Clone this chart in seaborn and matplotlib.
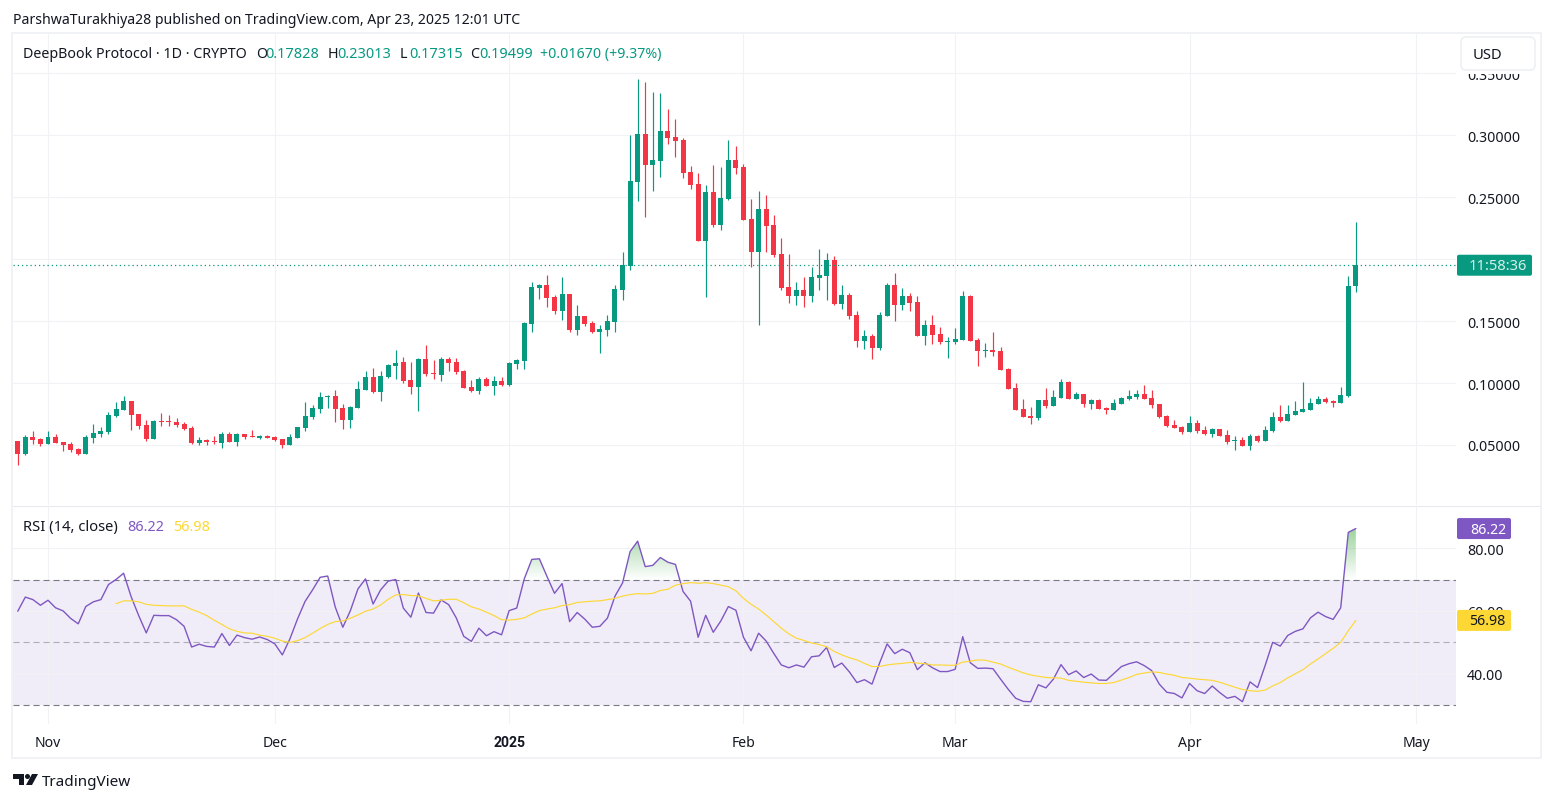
import numpy as np
import pandas as pd
import seaborn as sns
import matplotlib
matplotlib.use('Agg')
import matplotlib.pyplot as plt
import matplotlib.dates as mdates
from matplotlib.patches import FancyBboxPatch, Rectangle, Polygon, Circle
from matplotlib.path import Path

# daily candles, Oct 28 2024 to Apr 23 2025
first_day = '2024-10-28'
open_ = [
    .0535, .0425, .0567, .0551, .0511, .0567, .0527, .0511, .0470, .0430,
    .0559, .0591, .0608, .0737, .0785, .0858, .0753, .0664, .0551, .0696,
    .0696, .0688, .0672, .0640, .0519, .0543, .0535, .0519, .0591, .0527,
    .0591, .0575, .0559, .0575, .0567, .0551, .0503, .0559, .0640, .0729,
    .0793, .0890, .0898, .0801, .0704, .0801, .0947, .1051, .0930, .1051,
    .1140, .1172, .1027, .0970, .1196, .1083, .1067, .1196, .1172, .1100,
    .0970, .0938, .1035, .0978, .1019, .0987, .1156, .1180, .1479, .1769,
    .1794, .1697, .1584, .1721, .1430, .1543, .1487, .1414, .1430, .1495,
    .1753, .1947, .2624, .3012, .2762, .2794, .3036, .2988, .2963, .2705,
    .2608, .2148, .2544, .2277, .2487, .2802, .2745, .2326, .2060, .2407,
    .2277, .2043, .1777, .1704, .1753, .1704, .1850, .1866, .1995, .1640,
    .1713, .1551, .1341, .1382, .1285, .1543, .1793, .1632, .1704, .1656,
    .1382, .1470, .1398, .1333, .1333, .1349, .1704, .1349, .1261, .1269,
    .1261, .1115, .0962, .0793, .0736, .0721, .0866, .0817, .0882, .1011,
    .0874, .0914, .0834, .0866, .0801, .0785, .0834, .0874, .0890, .0914,
    .0882, .0834, .0737, .0664, .0648, .0608, .0680, .0624, .0591, .0632,
    .0583, .0535, .0543, .0495, .0575, .0535, .0616, .0729, .0696, .0745,
    .0769, .0785, .0834, .0874, .0858, .0842, .0898, .17828]
high = [
    .0535, .0583, .0616, .0559, .0616, .0591, .0527, .0527, .0478, .0583,
    .0672, .0648, .0769, .0850, .0898, .0858, .0753, .0704, .0704, .0761,
    .0745, .0721, .0688, .0656, .0567, .0551, .0575, .0608, .0608, .0600,
    .0591, .0624, .0583, .0583, .0575, .0551, .0591, .0648, .0850, .0825,
    .0930, .0906, .0947, .0834, .0817, .1019, .1100, .1124, .1100, .1156,
    .1269, .1213, .1172, .1204, .1309, .1188, .1213, .1213, .1204, .1108,
    .1027, .1051, .1051, .1059, .1051, .1172, .1196, .1495, .1818, .1802,
    .1874, .1713, .1858, .1721, .1632, .1543, .1503, .1471, .1551, .1794,
    .2060, .3004, .3448, .3431, .3351, .3343, .3214, .3133, .2980, .2754,
    .2697, .2600, .2762, .2745, .2963, .2915, .2770, .2487, .2552, .2520,
    .2358, .2173, .2043, .1817, .1858, .1938, .2084, .2051, .2027, .1793,
    .1729, .1583, .1430, .1398, .1575, .1809, .1890, .1769, .1729, .1704,
    .1511, .1551, .1454, .1374, .1446, .1745, .1713, .1365, .1325, .1414,
    .1293, .1123, .1002, .0873, .0809, .0866, .0963, .0947, .1035, .1019,
    .0930, .0914, .0874, .0874, .0809, .0874, .0890, .0947, .0947, .0987,
    .0947, .0834, .0745, .0704, .0656, .0737, .0704, .0656, .0640, .0632,
    .0624, .0575, .0567, .0591, .0583, .0656, .0769, .0825, .0825, .0858,
    .1011, .0882, .0898, .0890, .0866, .0971, .1866, .23013]
low = [
    .0336, .0417, .0511, .0495, .0511, .0519, .0454, .0446, .0422, .0430,
    .0519, .0567, .0591, .0729, .0785, .0624, .0632, .0535, .0551, .0656,
    .0656, .0648, .0624, .0511, .0503, .0503, .0511, .0478, .0527, .0495,
    .0551, .0567, .0551, .0559, .0535, .0478, .0503, .0559, .0616, .0713,
    .0761, .0801, .0688, .0632, .0640, .0801, .0947, .0922, .0857, .1043,
    .1035, .1003, .0914, .0777, .1059, .1035, .1019, .1100, .1075, .0962,
    .0930, .0914, .0978, .0906, .0978, .0978, .1116, .1116, .1414, .1681,
    .1616, .1560, .1511, .1414, .1390, .1463, .1406, .1245, .1382, .1414,
    .1672, .1914, .2471, .2342, .2552, .2665, .2931, .2826, .2657, .2568,
    .2148, .1696, .2261, .2237, .2479, .2689, .2318, .1938, .1470, .2060,
    .2019, .1753, .1648, .1632, .1616, .1656, .1753, .1672, .1632, .1600,
    .1519, .1293, .1277, .1196, .1269, .1543, .1503, .1591, .1583, .1382,
    .1309, .1317, .1317, .1204, .1317, .1349, .1341, .1140, .1212, .1220,
    .1107, .0954, .0784, .0728, .0671, .0704, .0801, .0817, .0882, .0874,
    .0874, .0809, .0793, .0793, .0753, .0785, .0834, .0866, .0874, .0874,
    .0801, .0721, .0648, .0640, .0591, .0608, .0600, .0583, .0567, .0575,
    .0511, .0462, .0495, .0462, .0527, .0535, .0608, .0688, .0696, .0745,
    .0769, .0785, .0834, .0842, .0809, .0842, .0890, .17315]
close = [
    .0425, .0567, .0543, .0511, .0567, .0519, .0503, .0462, .0430, .0567,
    .0600, .0616, .0745, .0793, .0858, .0745, .0656, .0551, .0696, .0688,
    .0688, .0664, .0632, .0519, .0543, .0527, .0527, .0591, .0527, .0591,
    .0567, .0567, .0575, .0559, .0543, .0503, .0567, .0648, .0737, .0801,
    .0890, .0898, .0793, .0704, .0809, .0955, .1051, .0930, .1059, .1148,
    .1164, .1019, .0970, .1196, .1075, .1075, .1196, .1164, .1091, .0962,
    .0938, .1035, .0978, .1019, .0987, .1164, .1188, .1487, .1777, .1794,
    .1689, .1584, .1721, .1430, .1543, .1479, .1414, .1438, .1503, .1761,
    .1955, .2632, .3012, .2762, .2802, .3036, .2980, .2955, .2697, .2600,
    .2148, .2544, .2277, .2495, .2802, .2737, .2318, .2060, .2407, .2269,
    .2035, .1769, .1704, .1753, .1704, .1858, .1874, .1995, .1640, .1713,
    .1543, .1341, .1382, .1285, .1551, .1793, .1632, .1704, .1648, .1382,
    .1470, .1390, .1333, .1341, .1357, .1704, .1341, .1261, .1269, .1253,
    .1107, .0954, .0784, .0728, .0720, .0866, .0817, .0890, .1011, .0874,
    .0914, .0834, .0866, .0793, .0785, .0842, .0882, .0898, .0914, .0874,
    .0825, .0729, .0656, .0640, .0608, .0680, .0616, .0591, .0632, .0575,
    .0527, .0543, .0495, .0575, .0535, .0624, .0729, .0696, .0753, .0777,
    .0793, .0842, .0874, .0850, .0842, .0906, .1785, .19499]

rsi = [
    59.9, 64.4, 63.6, 61.8, 63.4, 61.0, 60.0, 57.6, 55.9, 61.4,
    62.9, 63.6, 68.4, 70.0, 72.0, 64.5, 58.5, 53.0, 58.6, 58.5,
    58.5, 57.2, 55.1, 48.5, 49.4, 48.7, 48.5, 52.8, 49.0, 52.3,
    51.5, 51.0, 51.7, 50.9, 49.5, 46.0, 51.1, 57.4, 63.0, 66.7,
    70.7, 71.1, 61.2, 54.8, 60.1, 67.0, 70.2, 62.2, 66.7, 69.5,
    70.0, 60.9, 58.0, 65.7, 59.5, 59.3, 63.5, 62.0, 57.8, 51.9,
    50.3, 54.5, 52.1, 53.4, 52.4, 60.1, 60.9, 70.2, 76.4, 76.6,
    71.0, 65.6, 68.7, 56.6, 59.5, 57.4, 54.8, 55.1, 57.7, 64.7,
    68.9, 78.9, 82.2, 74.1, 74.5, 77.0, 75.5, 74.8, 66.2, 63.1,
    51.6, 58.6, 53.2, 56.8, 61.4, 60.2, 51.6, 47.3, 52.9, 50.4,
    46.5, 42.8, 41.9, 42.8, 42.1, 45.4, 45.7, 48.4, 42.0, 43.4,
    40.6, 37.2, 38.1, 36.7, 43.4, 49.5, 46.4, 47.8, 46.7, 41.3,
    43.5, 41.9, 40.7, 40.7, 41.4, 51.8, 43.5, 41.7, 41.8, 41.6,
    38.3, 35.1, 32.2, 31.2, 31.1, 36.5, 35.5, 38.3, 42.9, 39.7,
    40.9, 38.8, 39.9, 38.0, 37.9, 40.1, 42.3, 43.2, 43.8, 42.6,
    41.0, 36.7, 34.1, 33.7, 32.3, 36.9, 34.6, 33.7, 36.1, 34.0,
    32.2, 32.8, 31.1, 37.4, 35.6, 42.6, 50.0, 48.8, 52.2, 53.5,
    54.3, 57.8, 59.6, 58.2, 57.3, 61.0, 85.0, 86.22]
rsi_ma = [np.nan] * 13 + [
    62.3, 63.2, 63.2, 62.9, 62.1, 61.8, 61.7, 61.6, 61.6, 61.6,
    60.5, 59.6, 58.5, 57.0, 55.7, 54.3, 53.5, 53.0, 52.9, 52.3,
    51.9, 51.3, 50.4, 50.0, 50.5, 51.5, 52.9, 54.4, 55.7, 56.6,
    56.8, 57.7, 58.7, 59.9, 60.6, 61.9, 63.7, 65.1, 65.2, 64.9,
    64.8, 64.0, 63.2, 63.4, 63.7, 63.7, 62.6, 61.3, 60.6, 59.6,
    58.5, 57.2, 57.1, 57.3, 57.8, 59.0, 60.1, 60.6, 61.0, 61.7,
    62.0, 62.7, 62.9, 63.1, 63.2, 63.6, 64.0, 64.7, 65.2, 65.5,
    65.4, 65.6, 66.5, 66.9, 68.2, 68.7, 69.0, 68.8, 69.0, 68.7,
    68.2, 67.7, 66.4, 64.0, 62.1, 60.6, 58.7, 56.6, 54.5, 52.7,
    51.3, 50.6, 49.8, 49.3, 48.6, 47.1, 46.0, 45.1, 44.4, 43.3,
    42.3, 42.3, 42.8, 43.1, 43.3, 43.6, 43.4, 43.2, 42.8, 42.8,
    42.7, 42.7, 43.7, 44.0, 44.4, 44.3, 43.7, 43.1, 42.1, 41.2,
    40.3, 39.6, 39.2, 38.8, 38.7, 38.6, 37.9, 37.6, 37.3, 37.1,
    36.9, 36.9, 37.2, 38.0, 38.8, 39.8, 40.2, 40.6, 40.4, 39.9,
    39.5, 38.8, 38.6, 38.3, 38.1, 37.9, 37.3, 36.5, 35.7, 35.0,
    34.6, 34.4, 34.8, 36.1, 37.2, 38.7, 40.0, 41.3, 43.1, 44.7,
    46.4, 48.1, 50.0, 53.7, 56.98]

price_ticks = [0.05, 0.10, 0.15, 0.20, 0.25, 0.30, 0.35]
rsi_ticks = [40, 60, 80]
month_ticks = ['2024-11-01', '2024-12-01', '2025-01-01', '2025-02-01', '2025-03-01', '2025-04-01', '2025-05-01']
month_labels = ['Nov', 'Dec', '2025', 'Feb', 'Mar', 'Apr', 'May']

UP = '#089981'
DOWN = '#F23645'
GRID = '#F1F2F6'
INK = '#131722'
PURPLE = '#7E57C2'
YELLOW = '#FDD835'
W, H = 1554, 803

sns.set_style('white')
plt.rcParams['font.family'] = ['Noto Sans', 'DejaVu Sans']

df = pd.DataFrame({'day': pd.date_range(first_day, periods=len(close), freq='D'),
                   'open': open_, 'high': high, 'low': low, 'close': close,
                   'rsi': rsi, 'rsi_ma': rsi_ma})
df['num'] = mdates.date2num(df['day'])
df['color'] = np.where(df['close'] >= df['open'], UP, DOWN)


def px_axes(left, top, right, bottom):
    return fig.add_axes([left / W, 1 - bottom / H, (right - left) / W, (bottom - top) / H])


fig = plt.figure(figsize=(W / 100, H / 100), dpi=100, facecolor='white')
ax = px_axes(13, 34, 1456, 506)
ax2 = px_axes(13, 507, 1456, 725)
over = fig.add_axes([0, 0, 1, 1], zorder=10)
over.set_xlim(0, W)
over.set_ylim(H, 0)
over.axis('off')

xlim = (df['num'].iloc[0] - 0.63, mdates.date2num(pd.Timestamp('2025-05-01')) + 5.25)
month_num = mdates.date2num(pd.to_datetime(month_ticks))

# candles
ax.vlines(df['num'], df['low'], df['high'], colors=df['color'], lw=0.85, zorder=2)
ax.bar(df['num'], (df['close'] - df['open']).abs().clip(lower=0.0008), bottom=df[['open', 'close']].min(axis=1),
       width=0.66, color=df['color'], linewidth=0, zorder=3)
ax.axhline(close[-1], color=UP, lw=0.9, ls=(0, (1, 2.4)), zorder=4)
ax.set_ylim(0.0016, 0.3823)
ax.set_yticks(price_ticks)
ax.set_yticklabels(['%.5f' % p for p in price_ticks])

# rsi panel
ax2.axhspan(30, 70, color=PURPLE, alpha=0.1, lw=0, zorder=0.2)
for level, alpha in [(70, 1), (50, 0.55), (30, 1)]:
    ax2.axhline(level, color='#787B86', alpha=alpha, lw=0.8, ls=(0, (5.5, 3.5)), zorder=1)

# green gradient where the rsi is over 70
values = df['rsi'].to_numpy()
over70 = ax2.fill_between(df['num'], 70, values, where=values > 70, interpolate=True, facecolor='none', lw=0)
ramp = np.zeros((128, 2, 4))
ramp[..., :3] = matplotlib.colors.to_rgb('#4CAF50')
ramp[..., 3] = np.linspace(0.55, 0, 128)[:, None]
grad = ax2.imshow(ramp, extent=(xlim[0], xlim[1], 70, values.max()), aspect='auto', zorder=1.5, interpolation='bilinear')
grad.set_clip_path(Path.make_compound_path(*over70.get_paths()), transform=ax2.transData)

sns.lineplot(data=df, x='num', y='rsi', ax=ax2, color=PURPLE, lw=1.0, estimator=None, errorbar=None, zorder=3)
sns.lineplot(data=df.dropna(subset=['rsi_ma']), x='num', y='rsi_ma', ax=ax2, color=YELLOW, lw=0.85, estimator=None,
             errorbar=None, zorder=4)
ax2.set_ylim(24.0, 93.4)
ax2.set_yticks(rsi_ticks)
ax2.set_yticklabels(['%.2f' % r for r in rsi_ticks])

for a in (ax, ax2):
    a.set_xlim(*xlim)
    a.set_xticks(month_num)
    a.set_xlabel('')
    a.set_ylabel('')
    a.set_axisbelow(True)
    a.grid(True, color=GRID, lw=0.75)
    a.yaxis.tick_right()
    a.tick_params(axis='y', length=0, pad=8.0, labelsize=10.2, labelcolor=INK)
    a.tick_params(axis='x', length=0, pad=8, labelsize=10.1, labelcolor=INK)
    sns.despine(ax=a, left=True, bottom=True, right=True, top=True)
ax.set_xticklabels([])
ax2.set_xticklabels(month_labels)
year_label = ax2.get_xticklabels()[2]
year_label.set_fontfamily(['Roboto', 'DejaVu Sans'])
year_label.set_fontweight('bold')

# frame and pane divider
over.add_patch(Rectangle((12, 33.5), 1528.5, 725, fc='none', ec=GRID, lw=1.4))
over.plot([13, 1540], [506.5, 506.5], color='#E8EAEF', lw=0.8)

# the scale is cut off under the currency box
over.add_patch(Rectangle((1456.5, 35), 83, 40, fc='white', ec='none'))
over.add_patch(FancyBboxPatch((1464, 41), 68, 27, boxstyle='round,pad=3,rounding_size=5', fc='white', ec='#EBEDF1', lw=1))
over.text(1473, 55.5, 'USD', fontsize=10.6, color=INK, va='center')


def value_tag(a, value, label, fc, tc, right, size=10.2):
    y = H - a.transData.transform((0, value))[1]
    over.add_patch(FancyBboxPatch((1459, y - 8.5), right - 1462, 17, boxstyle='round,pad=2,rounding_size=2', fc=fc, ec='none'))
    over.text(right - 6, y + 0.5, label, fontsize=size, color=tc, ha='right', va='center')


value_tag(ax, close[-1], '11:58:36', UP, '#D5F0E8', 1533, 10.6)
value_tag(ax2, rsi[-1], '%.2f' % rsi[-1], PURPLE, 'white', 1512)
value_tag(ax2, rsi_ma[-1], '%.2f' % rsi_ma[-1], YELLOW, INK, 1512)

# captions
over.text(13, 20.5, 'ParshwaTurakhiya28 published on TradingView.com, Apr 23, 2025 12:01 UTC', fontsize=10.15, color=INK, va='center')
over.text(23, 54.5, 'DeepBook Protocol · 1D · CRYPTO', fontsize=10.25, color=INK, va='center')
for x, letter, x_val, val in [(256, 'O', 265, '0.17828'), (328, 'H', 337, '0.23013'), (400, 'L', 409, '0.17315'), (470, 'C', 479, '0.19499')]:
    over.text(x, 54.5, letter, fontsize=10.25, color=INK, va='center')
    over.text(x_val, 54.5, val, fontsize=10.45, color=UP, va='center')
over.text(540, 54.5, '+0.01670 (+9.37%)', fontsize=10.2, color=UP, va='center')

over.text(23, 527.5, 'RSI (14, close)', fontsize=10.6, color=INK, va='center')
over.text(127, 527.5, '%.2f' % rsi[-1], fontsize=10.4, color=PURPLE, va='center')
over.text(173, 527.5, '%.2f' % rsi_ma[-1], fontsize=10.4, color=YELLOW, va='center')

# logo
over.add_patch(Polygon([(13, 775), (24, 775), (24, 786), (18.5, 786), (18.5, 780), (13, 780)], fc=INK, ec='none'))
over.add_patch(Circle((27.5, 777.5), 2.5, fc=INK, ec='none'))
over.add_patch(Polygon([(32, 775), (38, 775), (32, 786), (26, 786)], fc=INK, ec='none'))
over.text(42, 782.5, 'TradingView', fontsize=11.0, color=INK, va='center')

fig.savefig('out.png', dpi=100, facecolor='white')
